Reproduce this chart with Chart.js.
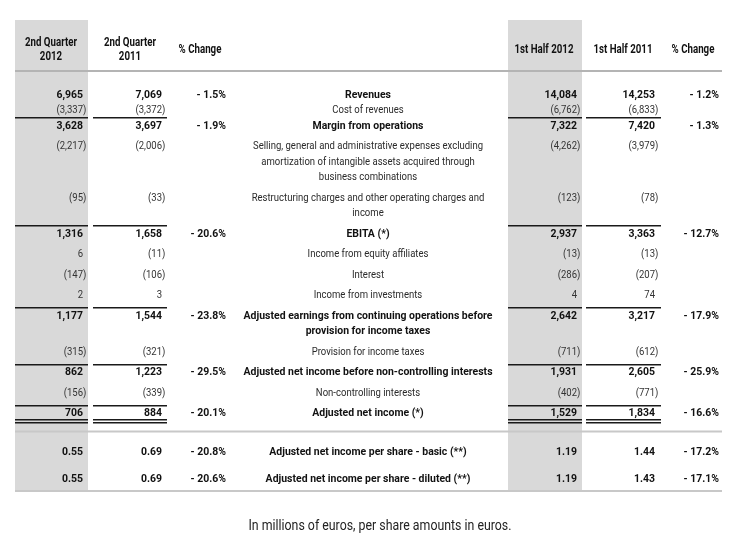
<!DOCTYPE html>
<html>
<head>
<meta charset="utf-8">
<script src="https://cdn.jsdelivr.net/npm/chart.js@4"></script>
<style>
  html, body { margin: 0; padding: 0; background: #fff; }
  #wrap { width: 744px; height: 547px; }
</style>
</head>
<body>
<div id="wrap"><canvas id="table" width="744" height="547"></canvas></div>
<script>
// table data
const headersLeft = ['2nd Quarter\n2012', '2nd Quarter\n2011', '% Change'];
const headersRight = ['1st Half 2012', '1st Half 2011', '% Change'];

const rowLabels = [
  'Revenues',
  'Cost of revenues',
  'Margin from operations',
  'Selling, general and administrative expenses excluding\namortization of intangible assets acquired through\nbusiness combinations',
  'Restructuring charges and other operating charges and\nincome',
  'EBITA (*)',
  'Income from equity affiliates',
  'Interest',
  'Income from investments',
  'Adjusted earnings from continuing operations before\nprovision for income taxes',
  'Provision for income taxes',
  'Adjusted net income before non-controlling interests',
  'Non-controlling interests',
  'Adjusted net income (*)',
  'Adjusted net income per share - basic (**)',
  'Adjusted net income per share - diluted (**)'
];
const q2_2012 = ['6,965', '(3,337)', '3,628', '(2,217)', '(95)', '1,316', '6', '(147)', '2', '1,177', '(315)', '862', '(156)', '706', '0.55', '0.55'];
const q2_2011 = ['7,069', '(3,372)', '3,697', '(2,006)', '(33)', '1,658', '(11)', '(106)', '3', '1,544', '(321)', '1,223', '(339)', '884', '0.69', '0.69'];
const q2Change = ['- 1.5%', '', '- 1.9%', '', '', '- 20.6%', '', '', '', '- 23.8%', '', '- 29.5%', '', '- 20.1%', '- 20.8%', '- 20.6%'];
const h1_2012 = ['14,084', '(6,762)', '7,322', '(4,262)', '(123)', '2,937', '(13)', '(286)', '4', '2,642', '(711)', '1,931', '(402)', '1,529', '1.19', '1.19'];
const h1_2011 = ['14,253', '(6,833)', '7,420', '(3,979)', '(78)', '3,363', '(13)', '(207)', '74', '3,217', '(612)', '2,605', '(771)', '1,834', '1.44', '1.43'];
const h1Change = ['- 1.2%', '', '- 1.3%', '', '', '- 12.7%', '', '', '', '- 17.9%', '', '- 25.9%', '', '- 16.6%', '- 17.2%', '- 17.1%'];
const boldRows = [0, 2, 5, 9, 11, 13, 14, 15];
const ruleAboveRows = [2, 5, 9, 11, 13];
const footnote = 'In millions of euros, per share amounts in euros.';

// layout (page units, mapped through the chart scales)
const FONT = "Roboto, 'Liberation Sans', sans-serif";
const valueCols = [
  { right: 83, data: q2_2012 }, { right: 162, data: q2_2011 }, { right: 226, data: q2Change, pct: true },
  { right: 577, data: h1_2012 }, { right: 655, data: h1_2011 }, { right: 719, data: h1Change, pct: true }
];
const headerCenters = [51, 130, 200, 544, 623, 693];
const labelCenter = 368;
const shadeCols = [[15, 88], [508, 582]];
const ruleSegs = [[15, 88], [93, 167], [508, 582], [586, 661]];
const LINE = 15.5, GAP = 20.5;

// row centres, stacked from the number of label lines
const rowY = [];
rowLabels.forEach((lab, i) => {
  if (i === 0) { rowY.push(95); return; }
  const prevLines = rowLabels[i - 1].split('\n').length;
  let step = (prevLines - 1) * LINE + GAP;
  if (i <= 2) step = LINE;
  if (i === 14) step = 38.5;
  if (i === 15) step = 27;
  rowY.push(rowY[i - 1] + step);
});

// condensed look: squeeze a normal face horizontally
function squeeze(ctx, font, sample, target) {
  ctx.font = font;
  return target / ctx.measureText(sample).width;
}
function text(ctx, s, x, y, align, sx) {
  ctx.save();
  ctx.translate(x, y);
  ctx.scale(sx, 1);
  ctx.textAlign = align;
  ctx.fillText(s, 0, 0);
  ctx.restore();
}

const tablePlugin = {
  id: 'tablePlugin',
  beforeDatasetsDraw(chart) {
    const ctx = chart.ctx;
    const xs = chart.scales.x, ys = chart.scales.y;
    const X = v => xs.getPixelForValue(v);
    const Y = v => ys.getPixelForValue(v);
    const last = rowY.length - 1;
    const bottom = rowY[last] + 11;
    const fReg = '11.5px ' + FONT, fBold = 'bold 11.5px ' + FONT;
    const fHead = 'bold 12px ' + FONT, fFoot = '14px ' + FONT;
    const sxReg = squeeze(ctx, fReg, rowLabels[3].split('\n')[0], 230);
    const sxBold = squeeze(ctx, fBold, rowLabels[11], 249);
    const sxHead = squeeze(ctx, fHead, '1st Half 2012', 59);
    const sxFoot = squeeze(ctx, fFoot, footnote, 263);

    ctx.save();
    // grey columns
    ctx.fillStyle = '#d9d9d9';
    shadeCols.forEach(([a, b]) => ctx.fillRect(X(a), Y(20), X(b) - X(a), Y(bottom) - Y(20)));

    // header rule
    ctx.fillStyle = '#b4b4b4';
    ctx.fillRect(X(15), Y(70), X(722) - X(15), 2);

    // black rules
    ctx.fillStyle = '#1a1a1a';
    ruleAboveRows.forEach(r => {
      const y = Math.round(Y(rowY[r] - 9));
      ruleSegs.forEach(([a, b]) => ctx.fillRect(X(a), y, X(b) - X(a), 1.5));
    });
    const dr = rowY[13];
    ruleSegs.forEach(([a, b]) => {
      ctx.fillRect(X(a), Math.round(Y(dr + 5)), X(b) - X(a), 1.5);
      ctx.fillRect(X(a), Math.round(Y(dr + 8)), X(b) - X(a), 1.5);
    });

    // grey separators
    ctx.fillStyle = '#c8c8c8';
    ctx.fillRect(X(15), Y(dr + 17), X(722) - X(15), 2);
    ctx.fillRect(X(15), Y(bottom), X(722) - X(15), 2);

    // headers
    ctx.fillStyle = '#111';
    ctx.font = fHead;
    ctx.textBaseline = 'middle';
    [...headersLeft, ...headersRight].forEach((h, i) => {
      const lines = h.split('\n');
      lines.forEach((ln, k) => {
        const y = lines.length === 1 ? 50 : 43 + k * 14;
        text(ctx, ln, X(headerCenters[i]), Y(y), 'center', sxHead);
      });
    });

    // rows
    rowLabels.forEach((lab, r) => {
      const bold = boldRows.includes(r);
      const y = rowY[r];
      ctx.font = bold ? fBold : fReg;
      ctx.fillStyle = bold ? '#111' : '#2a2a2a';
      lab.split('\n').forEach((ln, k) => text(ctx, ln, X(labelCenter), Y(y + k * LINE), 'center', bold ? sxBold : sxReg));

      valueCols.forEach(col => {
        const t = col.data[r];
        if (!t) return;
        const b = bold || col.pct;
        const sx = b ? sxBold : sxReg;
        ctx.font = b ? fBold : fReg;
        ctx.fillStyle = b ? '#111' : '#333';
        let x = X(col.right);
        if (t.endsWith(')')) x += ctx.measureText(')').width * sx;
        text(ctx, t, x, Y(y), 'right', sx);
      });
    });

    // footnote
    ctx.font = fFoot;
    ctx.fillStyle = '#222';
    text(ctx, footnote, X(380), Y(526), 'center', sxFoot);
    ctx.restore();
  }
};

new Chart(document.getElementById('table'), {
  type: 'scatter',
  data: { datasets: [{ data: [] }] },
  options: {
    responsive: false,
    animation: false,
    layout: { padding: 0 },
    plugins: { legend: { display: false }, tooltip: { enabled: false } },
    scales: {
      x: { type: 'linear', min: 0, max: 744, display: false },
      y: { type: 'linear', min: 0, max: 547, reverse: true, display: false }
    }
  },
  plugins: [tablePlugin]
});
</script>
</body>
</html>
